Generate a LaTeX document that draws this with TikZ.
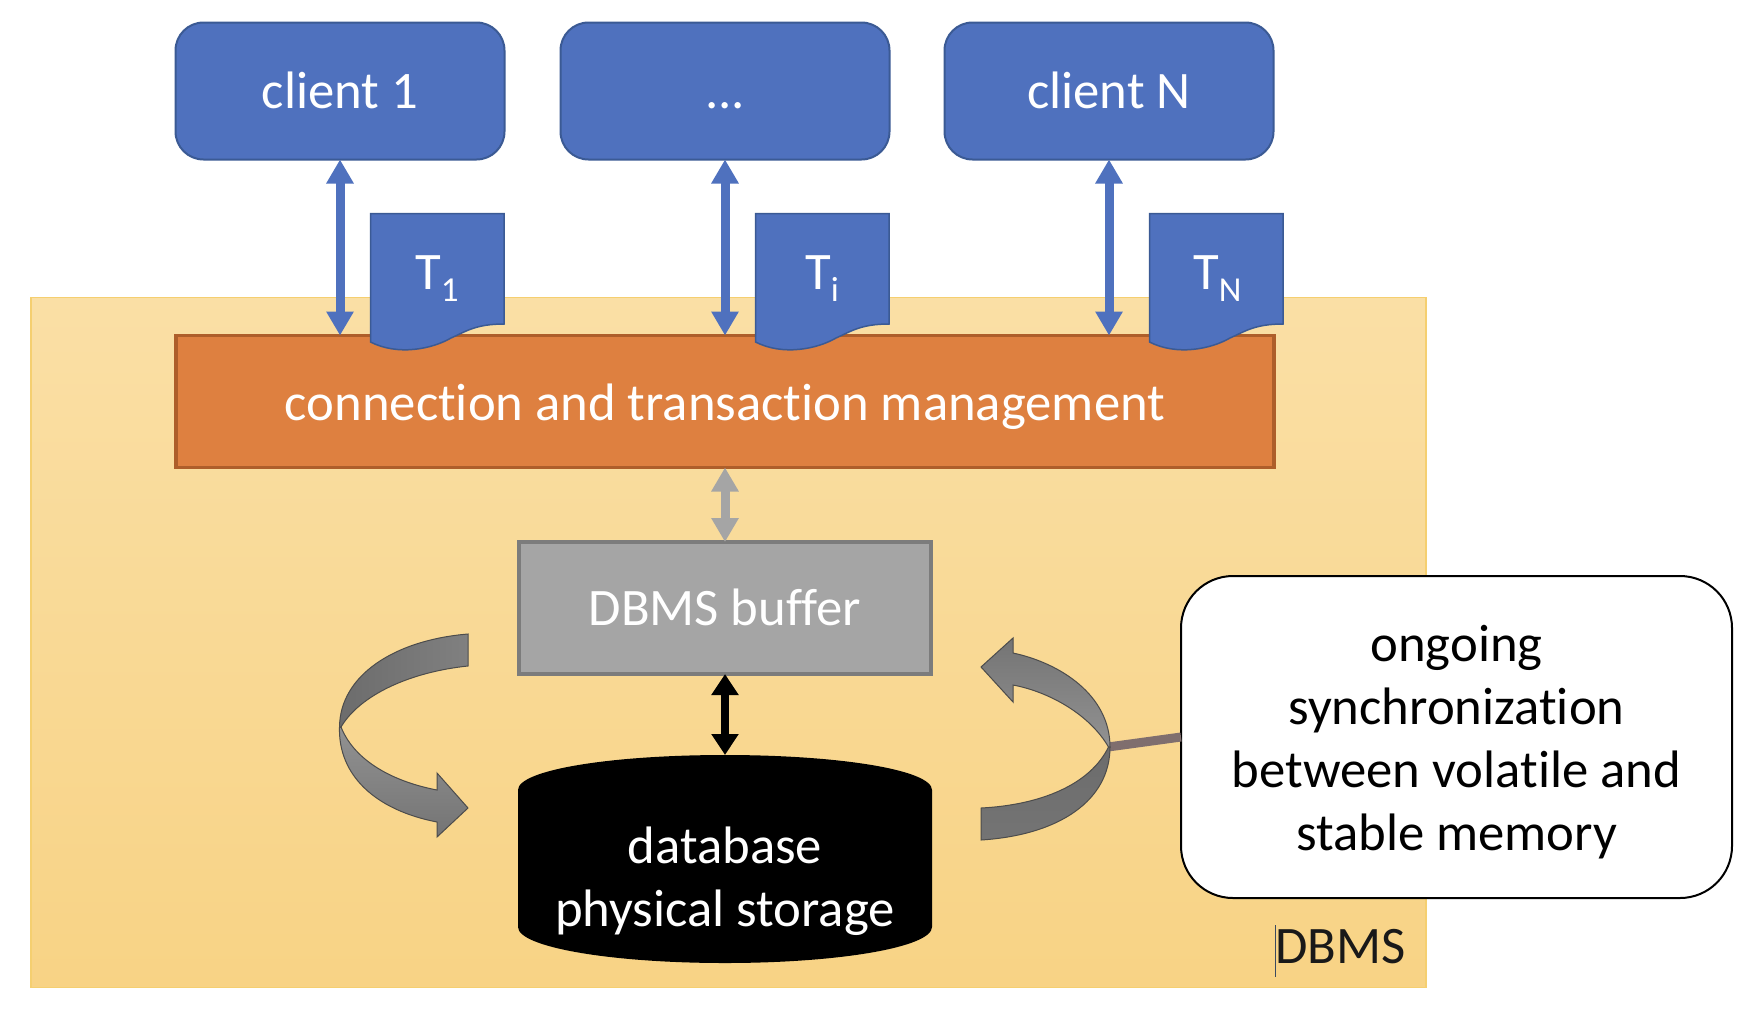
\documentclass[tikz,border=0pt]{standalone}
\usepackage{fontspec}
\setmainfont{Carlito}[Ligatures={NoCommon}]
\usetikzlibrary{arrows.meta}
\definecolor{cblue}{HTML}{4F71BE}
\definecolor{cblueb}{HTML}{3B5A94}
\definecolor{corange}{HTML}{DE8040}
\definecolor{corangeb}{HTML}{AE5E2A}
\definecolor{cgray}{HTML}{A5A5A5}
\definecolor{cgrayb}{HTML}{7C7C7C}
\definecolor{ytop}{HTML}{FADFA5}
\definecolor{ybot}{HTML}{F8D385}
\definecolor{yedge}{HTML}{F5CF70}
\definecolor{lead}{HTML}{7F6E6E}
\definecolor{cursor}{HTML}{3B4A60}
\definecolor{ra}{HTML}{929292}
\definecolor{rb}{HTML}{747474}
\definecolor{rc}{HTML}{808080}
\definecolor{rd}{HTML}{6C6C6C}
\newcommand{\Tsub}[1]{T\raisebox{-12pt}{\fontsize{35}{35}\selectfont #1}}
\tikzset{
  big/.style={font=\fontsize{52.7}{63}\selectfont},
  boxtext/.style={big,text=white,text height=37pt,text depth=3pt,inner sep=0pt,outer sep=0pt},
  client/.style={boxtext,draw=cblueb,fill=cblue,line width=2pt,rounded corners=28pt,minimum width=329pt,minimum height=137pt},
  mgmt/.style={boxtext,text height=40pt,draw=corangeb,fill=corange,line width=3.5pt,minimum width=1098pt,minimum height=132pt},
  buffer/.style={boxtext,draw=cgrayb,fill=cgray,line width=3.5pt,minimum width=412pt,minimum height=132pt},
  doc/.style={draw=cblueb,fill=cblue,line width=1.5pt},
  doctext/.style={big,text=white,anchor=base west,inner sep=0pt},
  link/.style={line width=#1,{Triangle[width=26pt,length=24pt]}-{Triangle[width=26pt,length=24pt]}},
  blink/.style={line width=8pt,black,{Triangle[width=26pt,length=21pt]}-{Triangle[width=26pt,length=21pt]}},
  ribbon/.style={draw=black!70,line width=1pt},
}
\newcommand{\docshape}[1]{
  \draw[doc,shift={(#1,0)}] (0.5,213.5) -- (134,213.5) -- (134,324)
    .. controls (105,324) and (95,332) .. (81,338)
    .. controls (62,349) and (28,356) .. (0.5,342) -- cycle;
}
\begin{document}
\begin{tikzpicture}[x=1pt,y=-1pt]
\useasboundingbox (0,0) rectangle (1752,1018);
\fill[white] (0,0) rectangle (1752,1018);
\shade[top color=ytop,bottom color=ybot] (31,297.5) rectangle (1426,987.5);
\draw[yedge,line width=1.5pt] (31,297.5) rectangle (1426,987.5);

\node[client] (c1) at (340,91) {client 1};
\node[client] (c2) at (725,91) {...};
\node[client] (c3) at (1109,91) {client N};
\node[mgmt] (m) at (725,401.5) {connection and transaction management};
\node[buffer] (b) at (725,608) {DBMS buffer};
\node[minimum width=414pt,minimum height=208pt,inner sep=0pt,outer sep=0pt] (db) at (725,859) {};

\draw[link=9pt,draw=cblue] (c1.south) -- (c1.south |- m.north);
\draw[link=9pt,draw=cblue] (c2.south) -- (c2.south |- m.north);
\draw[link=9pt,draw=cblue] (c3.south) -- (c3.south |- m.north);

\docshape{370}
\docshape{755}
\docshape{1149}
\node[doctext] (t1) at (415,289) {\Tsub{1}};
\node[doctext] (ti) at (805,289) {\Tsub{i}};
\node[doctext] (tn) at (1193,289) {\Tsub{N}};

\draw[link=9pt,draw=cgray] (m.south) -- (b.north);

% database cylinder
\fill[black] (518,790) .. controls (518,770) and (610,755) .. (725,755)
  .. controls (840,755) and (932,770) .. (932,790) -- (932,927)
  .. controls (932,947) and (840,963) .. (725,963)
  .. controls (610,963) and (518,947) .. (518,927) -- cycle;
\node[big,text=white,align=center,anchor=base,inner sep=0pt] (dbt) at (725,926) {database\\physical storage};
\draw[blink] (b.south) -- (db.north);

% note and its leader
\node[big,text=black,draw=black,fill=white,line width=2pt,rounded corners=52pt,minimum width=551pt,minimum height=322pt,align=center,inner sep=0pt,outer sep=0pt] (note) at (1456.5,737) {\rule{0pt}{47pt}ongoing\\synchronization\\between volatile and\\stable memory};
\coordinate (twist) at (1108,747);
\draw[line width=9pt,draw=lead] (note.west) -- (twist);

% left curved arrow
\shade[ribbon,top color=ra,bottom color=rb]
  (341,727) -- (339.5,727) .. controls (338,775) and (375,810) .. (437,822)
  -- (437,837) -- (468,808) -- (437,773) -- (437,790)
  .. controls (395,782) and (355,762) .. (341,727) -- cycle;
\shade[ribbon,left color=rd,right color=rc]
  (468,634) .. controls (395,640) and (340,675) .. (339.5,727)
  -- (341,727) .. controls (360,695) and (410,672) .. (468,666) -- cycle;

% right curved arrow
\shade[ribbon,top color=rd,bottom color=rb]
  (981,808) .. controls (1040,805) and (1090,785) .. (1108.5,747)
  -- (1110,747) .. controls (1110,800) and (1060,835) .. (981,840) -- cycle;
\shade[ribbon,top color=rb,bottom color=ra]
  (1013,653) .. controls (1060,663) and (1110,695) .. (1110,747)
  -- (1108.5,747) .. controls (1090,715) and (1050,692) .. (1013,685)
  -- (1013,702) -- (981,667) -- (1013,638) -- cycle;

\node[big,anchor=base west,inner sep=0pt,text=black!90] (dbms) at (1275,963) {DBMS};
\draw[line width=1pt,draw=cursor] (dbms.west |- 0,925) -- (dbms.west |- 0,977);
\end{tikzpicture}
\end{document}
